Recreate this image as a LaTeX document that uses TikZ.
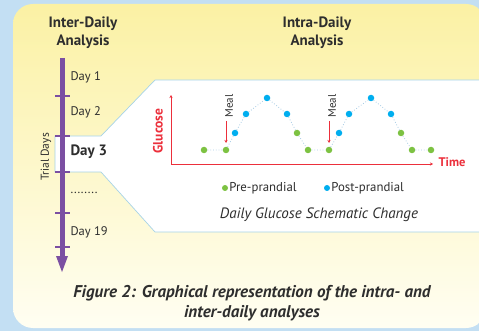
\documentclass[tikz,border=0pt]{standalone}
\usepackage{fontspec}
\setmainfont{PT Sans}
\definecolor{bgblue}{HTML}{C3DFF3}
\definecolor{paneltop}{HTML}{FBF1A4}
\definecolor{panelbot}{HTML}{FFFEF2}
\definecolor{boxedge}{HTML}{A6D3E6}
\definecolor{bar}{HTML}{7B4FA2}
\definecolor{gred}{HTML}{EC2F3B}
\definecolor{pgreen}{HTML}{7DC242}
\definecolor{pblue}{HTML}{00AEEF}
\definecolor{dotline}{HTML}{A9CDE6}
\definecolor{txt}{HTML}{2E2E2E}
\tikzset{
  head/.style={font=\bfseries\fontsize{15}{18}\selectfont, text=txt, align=center},
  daylab/.style={anchor=west, font=\fontsize{12.5}{15}\selectfont, text=txt},
  tick/.style={draw=bar, line width=1.6pt},
  gdot/.style={circle, fill=pgreen, inner sep=0pt, minimum size=6.5pt},
  bdot/.style={circle, fill=pblue, inner sep=0pt, minimum size=6.5pt},
  meal/.style={rotate=90, font=\fontsize{11}{12}\selectfont, text=txt},
  mealarrow/.style={draw=gred, line width=0.9pt, -{Stealth[length=3pt,width=3pt]}},
  axis/.style={draw=gred, line width=0.9pt, -{Stealth[length=3pt,width=3pt]}},
  legtext/.style={anchor=west, font=\fontsize{12.8}{14}\selectfont, text=txt, inner sep=1pt},
}
\usetikzlibrary{arrows.meta}
\begin{document}
\begin{tikzpicture}[x=1pt,y=-1pt]
\useasboundingbox (0,0) rectangle (479,331);
\fill[bgblue] (0,0) rectangle (479,331);
\shade[top color=paneltop, bottom color=panelbot, rounded corners=20] (13,4) rectangle (486,328);
% white box
\draw[fill=white, draw=boxedge, line width=0.7pt] (55,136) -- (101,136) -- (155,80) -- (490,80) -- (490,232) -- (155,232) -- (101,172) -- (55,172) -- cycle;
% headings
\node[head] (inter) at (83,33) {Inter-Daily\\Analysis};
\node[head] (intra) at (317,33) {Intra-Daily\\Analysis};
% timeline bar
\coordinate (bartop) at (62,58);
\coordinate (barend) at (62,257);
\draw[bar, line width=5pt] (bartop) -- (barend);
\fill[bar] (56,256) -- (68,256) -- (62,272) -- cycle;
\foreach \yy in {96,136,172,213,247} \draw[tick] (55,\yy) -- (70,\yy);
\node[daylab] (d1) at (67,77) {Day 1};
\node[daylab] (d2) at (67,112) {Day 2};
\node[daylab, font=\bfseries\fontsize{15}{17}\selectfont] (d3) at (67,152) {Day 3};
\node[daylab] (dd) at (67,193) {........};
\node[daylab] (d19) at (67,232) {Day 19};
\node[rotate=90, font=\fontsize{11.5}{12}\selectfont, text=txt] (trial) at (46,157) {Trial Days};
% axes
\coordinate (orig) at (171,164);
\coordinate (ytop) at (171,95);
\coordinate (xend) at (433,164);
\draw[axis] (orig) -- (ytop);
\draw[axis] (orig) -- (xend);
\node[anchor=west, text=gred, font=\bfseries\fontsize{12.5}{14}\selectfont] (time) at (435,162) {Time};
\node[rotate=90, text=gred, font=\bfseries\fontsize{13.5}{14}\selectfont] (gluc) at (158,131) {Glucose};
% points
\node[gdot] (p1) at (204,150) {};
\node[gdot] (p2) at (226,150) {};
\node[bdot] (p3) at (235,133) {};
\node[bdot] (p4) at (246,114) {};
\node[bdot] (p5) at (267,98) {};
\node[bdot] (p6) at (287,114) {};
\node[gdot] (p7) at (297,133) {};
\node[gdot] (p8) at (308,150) {};
\node[gdot] (p9) at (329,150) {};
\node[bdot] (p10) at (339,133) {};
\node[bdot] (p11) at (349,114) {};
\node[bdot] (p12) at (371,98) {};
\node[bdot] (p13) at (391,114) {};
\node[gdot] (p14) at (401,133) {};
\node[gdot] (p15) at (412,150) {};
\node[gdot] (p16) at (431,150) {};
\draw[dotline, line width=0.8pt, dotted] (p1) -- (p2) -- (p3) -- (p4) -- (p5) -- (p6) -- (p7) -- (p8) -- (p9) -- (p10) -- (p11) -- (p12) -- (p13) -- (p14) -- (p15) -- (p16);
% meals
\coordinate (m1a) at (226,121);
\coordinate (m1b) at (226,143);
\coordinate (m2a) at (329,121);
\coordinate (m2b) at (329,143);
\draw[mealarrow] (m1a) -- (m1b);
\draw[mealarrow] (m2a) -- (m2b);
\node[meal] (meal1) at (229,106) {Meal};
\node[meal] (meal2) at (332,106) {Meal};
% legend
\node[gdot, minimum size=6pt] (lg) at (225,188) {};
\node[legtext] (lgt) at (lg.east) {Pre-prandial};
\node[bdot, minimum size=6pt] (lb) at (327,188) {};
\node[legtext] (lbt) at (lb.east) {Post-prandial};
\node[font=\itshape\fontsize{15}{17}\selectfont, text=txt] (cap1) at (319,215) {Daily Glucose Schematic Change};
% caption
\node[align=center, font=\bfseries\itshape\fontsize{17}{20}\selectfont, text=txt] (fig) at (252,303) {Figure 2: Graphical representation of the intra- and\\inter-daily analyses};
\end{tikzpicture}
\end{document}
